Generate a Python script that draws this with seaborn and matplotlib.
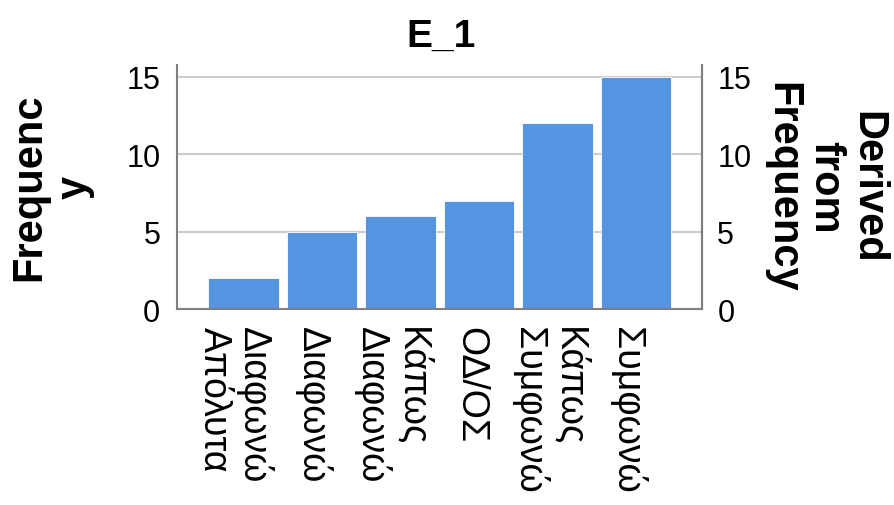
import numpy as np
import pandas as pd
import matplotlib
matplotlib.use("Agg")
import matplotlib.pyplot as plt
import matplotlib.transforms as mtransforms
import seaborn as sns

# data
categories = ["Διαφωνώ\nΑπόλυτα", "Διαφωνώ", "Κάπως\nΔιαφωνώ", "ΟΔ/ΟΣ", "Κάπως\nΣυμφωνώ", "Συμφωνώ"]
counts = [2, 5, 6, 7, 12, 15]
yticks = [0, 5, 10, 15]
title = "E_1"
left_label = "Frequenc\ny"
right_label = "Derived\nfrom\nFrequency"

sns.set_theme(style="white")
plt.rcParams['font.family'] = ['Liberation Sans', 'DejaVu Sans']
plt.rcParams['text.color'] = 'black'
plt.rcParams['xtick.color'] = 'black'
plt.rcParams['ytick.color'] = 'black'
narrow = ['Liberation Sans Narrow', 'Liberation Sans', 'DejaVu Sans']

bar_color = "#5594E1"
spine_color = "#808080"
grid_color = "#cccccc"

df = pd.DataFrame({"cat": categories, "n": counts})

fig = plt.figure(figsize=(8.94, 5.06), dpi=100)
ax = fig.add_axes([177/894, 1-310/506, 525/894, 244/506])

sns.barplot(data=df, x="cat", y="n", color=bar_color, saturation=1, width=0.9,
            edgecolor="white", linewidth=0.6, ax=ax)

ax.set_xlim(-0.847, 5.84)
ax.set_ylim(0, 15.77)
ax.set_yticks(yticks)
ax.set_xlabel("")
ax.set_ylabel("")
ax.yaxis.grid(True, color=grid_color, lw=1.5)
ax.set_axisbelow(True)

for side in ["left", "right", "bottom"]:
    ax.spines[side].set_color(spine_color)
    ax.spines[side].set_linewidth(1.5)
ax.spines["top"].set_visible(False)

ax.tick_params(axis="both", length=0)
ax.tick_params(axis="y", pad=12)
ax.tick_params(axis="x", pad=12)
for lab in ax.get_yticklabels():
    lab.set_family(narrow)
    lab.set_fontsize(22)
offset = mtransforms.ScaledTranslation(-9/100, 0, fig.dpi_scale_trans)
for lab in ax.get_xticklabels():
    lab.set_fontsize(27)
    lab.set_rotation(-90)
    lab.set_ha("center")
    lab.set_va("top")
    lab.set_multialignment("left")
    lab.set_linespacing(1.1)
    lab.set_transform(lab.get_transform() + offset)

ax2 = ax.twinx()
ax2.set_ylim(ax.get_ylim())
ax2.set_yticks(yticks)
ax2.tick_params(axis="y", length=0, pad=11)
for lab in ax2.get_yticklabels():
    lab.set_family(narrow)
    lab.set_fontsize(22)
for side in ["top", "left", "bottom"]:
    ax2.spines[side].set_visible(False)
ax2.spines["right"].set_color(spine_color)
ax2.spines["right"].set_linewidth(1.5)

fig.text(441/894, 1-47/506, title, ha="center", va="baseline",
         fontsize=28, fontweight="bold")
fig.text(52/894, 1-187/506, left_label, rotation=90, ha="center", va="center",
         multialignment="center", fontsize=30, fontweight="bold", linespacing=1.15)
fig.text(825/894, 1-187/506, right_label, rotation=-90, ha="center", va="center",
         multialignment="center", fontsize=30, fontweight="bold", linespacing=1.08)

fig.savefig("out.png", dpi=100)
